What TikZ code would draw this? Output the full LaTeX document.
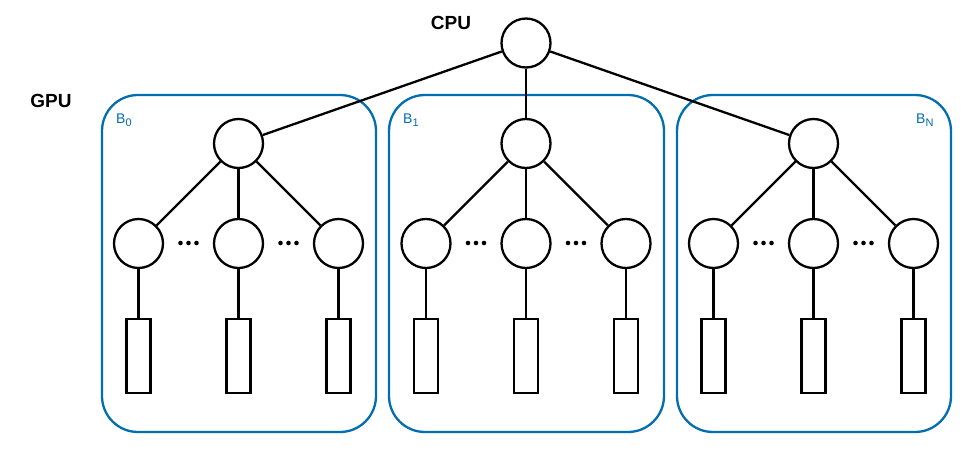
\documentclass[tikz,border=0pt]{standalone}
\usepackage{fontspec}
\setmainfont{Liberation Sans}
\definecolor{boxblue}{RGB}{0,110,175}
\newcommand{\blk}[2]{#1\raisebox{-3.5pt}{\fontsize{11}{12}\selectfont #2}}
\begin{document}
\begin{tikzpicture}[x=1pt,y=-1pt,
  nd/.style={circle,draw=black,line width=2.3pt,minimum size=49pt,inner sep=0pt,fill=white},
  leaf/.style={rectangle,draw=black,line width=2.3pt,minimum width=24pt,minimum height=74pt,inner sep=0pt,fill=white},
  edge/.style={draw=black,line width=2.3pt},
  grp/.style={draw=boxblue,line width=2.3pt,rounded corners=36pt},
  hdr/.style={font=\bfseries\fontsize{19}{22}\selectfont,inner sep=0pt},
  blab/.style={text=boxblue,font=\fontsize{14}{16}\selectfont,inner sep=0pt,anchor=base west},
  dot/.style={fill=black}]
\useasboundingbox (0,0) rectangle (980,456);
\fill[white] (0,0) rectangle (980,456);
% group boxes
\draw[grp] (102,95) rectangle (376,432);
\draw[grp] (389,95) rectangle (664,432);
\draw[grp] (677,95) rectangle (951,432);
% labels
\node[hdr] (cpulab) at (451,23) {CPU};
\node[hdr] (gpulab) at (51,101) {GPU};
\node[blab] (b0) at (116,123) {\blk{B}{0}};
\node[blab] (b1) at (403,123) {\blk{B}{1}};
\node[blab] (bn) at (916,123) {\blk{B}{N}};
% CPU
\node[nd] (cpu) at (526,43) {};
% blocks
\foreach \i/\cx in {0/238.5,1/526,2/813.5}{
  \node[nd] (t\i) at (\cx,143.5) {};
  \draw[edge] (cpu) -- (t\i);
  \foreach \j/\dx in {a/-100,b/0,c/100}{
    \node[nd] (c\i\j) at (\cx+\dx,243.5) {};
    \node[leaf] (r\i\j) at (\cx+\dx,356) {};
    \draw[edge] (t\i) -- (c\i\j);
    \draw[edge] (c\i\j) -- (r\i\j);
  }
  \foreach \dx in {-50,50}{
    \foreach \k in {-8,0,8}{
      \fill[dot] (\cx+\dx+\k,243) circle (2.3pt);
    }
  }
}
\end{tikzpicture}
\end{document}
